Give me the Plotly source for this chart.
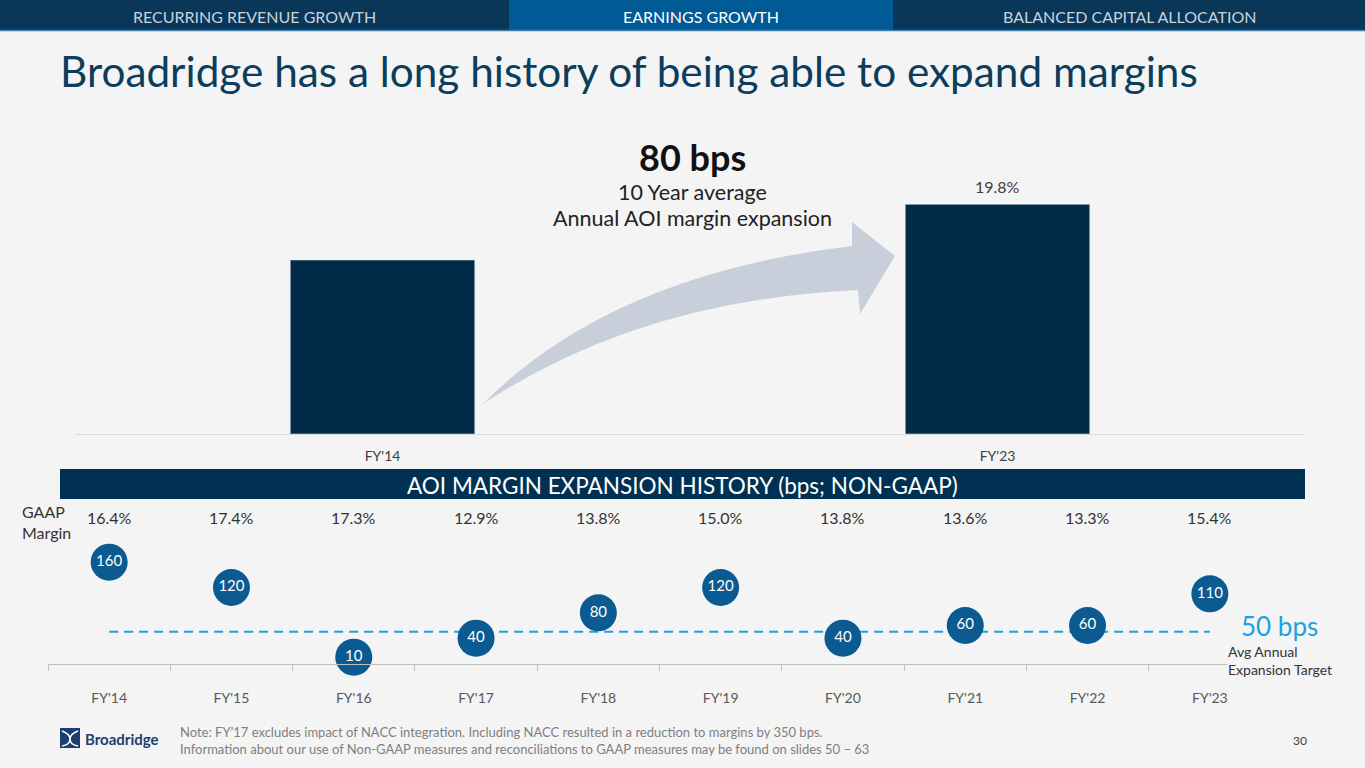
import plotly.graph_objs as go

W, H = 1365, 768

# ---- data ----
top_years = ["FY'14", "FY'23"]
top_margin = [15.0, 19.8]          # AOI margin %, FY'14 unlabeled in source (estimated)
top_labels = ["", "19.8%"]

years = ["FY'14", "FY'15", "FY'16", "FY'17", "FY'18",
         "FY'19", "FY'20", "FY'21", "FY'22", "FY'23"]
expansion_bps = [160, 120, 10, 40, 80, 120, 40, 60, 60, 110]
gaap_margin = ["16.4%", "17.4%", "17.3%", "12.9%", "13.8%",
               "15.0%", "13.8%", "13.6%", "13.3%", "15.4%"]
target_bps = 50

header_tabs = ["RECURRING REVENUE GROWTH", "EARNINGS GROWTH", "BALANCED CAPITAL ALLOCATION"]

FONT = "Lato, Calibri, Carlito, sans-serif"
NAVY = "#002b49"
MID_BLUE = "#0b5a91"
LIGHT_BLUE = "#1ba3e0"
BG = "#f4f4f4"


def px(x):
    return x / W


def py(y):
    return 1 - y / H


def note(x, y, text, size, color, xanchor="center", bold=False, align="center", **kw):
    # plain text placed in pixel coordinates of the slide
    if bold:
        text = "<b>" + text + "</b>"
    return dict(x=px(x), y=py(y), xref="paper", yref="paper", text=text, showarrow=False,
                xanchor=xanchor, yanchor="middle", align=align,
                font=dict(size=size, color=color, family=FONT), **kw)


fig = go.Figure()  # declare figure

# top bar chart
fig.add_trace(go.Bar(x=top_years, y=top_margin, marker=dict(color=NAVY),
                     xaxis="x", yaxis="y", showlegend=False, hoverinfo="skip"))

# target dashed line
fig.add_trace(go.Scatter(x=years, y=[target_bps] * len(years), mode="lines",
                         line=dict(color=LIGHT_BLUE, width=2, dash="9px,6px"),
                         xaxis="x2", yaxis="y2", showlegend=False, hoverinfo="skip"))

# expansion bubbles
fig.add_trace(go.Scatter(x=years, y=expansion_bps, mode="markers+text",
                         text=[str(v) for v in expansion_bps], textposition="middle center",
                         textfont=dict(size=15, color="white", family=FONT),
                         marker=dict(size=37, color=MID_BLUE),
                         xaxis="x2", yaxis="y2", showlegend=False, cliponaxis=False,
                         hoverinfo="skip"))

shapes = []
annotations = []

# bar value labels
for yr, v, lab in zip(top_years, top_margin, top_labels):
    if lab:
        annotations.append(dict(x=yr, y=v, xref="x", yref="y", text=lab, showarrow=False,
                                xanchor="center", yanchor="middle", yshift=18,
                                font=dict(size=16, color="#404040", family=FONT)))

# header tabs
tab_edges = [(0, 509, "#0a3658", "#c9d3dd"), (509, 893, "#005a96", "white"), (893, 1365, "#0a3658", "#c9d3dd")]
for (x0, x1, col, tcol), label in zip(tab_edges, header_tabs):
    shapes.append(dict(type="rect", xref="paper", yref="paper", x0=px(x0), x1=px(x1),
                       y0=py(30), y1=py(0), fillcolor=col, line=dict(width=0), layer="below"))
    annotations.append(note((x0 + x1) / 2, 16, label, 16, tcol))
shapes.append(dict(type="line", xref="paper", yref="paper", x0=0, x1=1, y0=py(30.5), y1=py(30.5),
                   line=dict(color="#3f7fae", width=1.5)))

# title
annotations.append(note(58, 70, "Broadridge has a long history of being able to expand margins",
                        42.3, "#0b3d5c", xanchor="left"))

# curved arrow
arrow = ("M {} {} Q {} {} {} {} L {} {} L {} {} L {} {} L {} {} Q {} {} {} {} Z").format(
    px(483), py(404), px(610), py(275), px(852), py(246),
    px(852), py(222), px(895), py(256), px(860), py(314), px(858), py(290),
    px(640), py(300), px(483), py(404))
shapes.append(dict(type="path", xref="paper", yref="paper", path=arrow,
                   fillcolor="#c8cfda", line=dict(width=0), layer="below"))

annotations += [
    note(692, 157, "80 bps", 36, "#111111", bold=True),
    note(692, 192, "10 Year average", 21.5, "#222222"),
    note(692, 218, "Annual AOI margin expansion", 21.5, "#222222"),
]

# banner
shapes.append(dict(type="rect", xref="paper", yref="paper", x0=px(60), x1=px(1305),
                   y0=py(499), y1=py(469), fillcolor="#003153", line=dict(width=0)))
annotations.append(note(682, 485, "AOI MARGIN EXPANSION HISTORY (bps; NON-GAAP)", 22.5, "white"))

# GAAP margin row
annotations.append(note(20, 522, "GAAP<br>Margin", 16, "#333333", xanchor="left", align="left"))
for yr, g in zip(years, gaap_margin):
    annotations.append(dict(x=yr, y=py(517), xref="x2", yref="paper", text=g, showarrow=False,
                            xanchor="center", yanchor="middle",
                            font=dict(size=16, color="#333333", family=FONT)))

# target label
annotations += [
    note(1239, 626, f"{target_bps} bps", 26, LIGHT_BLUE, xanchor="left"),
    note(1227, 660, "Avg Annual<br>Expansion Target", 14, "#333333", xanchor="left", align="left",
         bgcolor=BG, borderpad=0),
]

# footer: logo, note, page number
shapes.append(dict(type="rect", xref="paper", yref="paper", x0=px(60), x1=px(80),
                   y0=py(748), y1=py(728), fillcolor="#1b3f6e", line=dict(width=0)))
for a, b in [((62, 731), (78, 746)), ((78, 731), (62, 746))]:
    shapes.append(dict(type="path", xref="paper", yref="paper",
                       path="M {} {} Q {} {} {} {} Q {} {} {} {}".format(
                           px(a[0]), py(a[1]), px(70), py(734), px(70), py(739),
                           px(70), py(745), px(b[0]), py(b[1])),
                       line=dict(color="white", width=1.5)))
annotations += [
    note(83, 739, "Broadridge", 15, "#1b3f6e", xanchor="left", bold=True),
    note(178, 740, "Note: FY\u201917 excludes impact of NACC integration. Including NACC resulted in a reduction to margins by 350 bps.<br>"
                   "Information about our use of Non-GAAP measures and reconciliations to GAAP measures may be found on slides 50 \u2013 63",
         13, "#7f7f7f", xanchor="left", align="left"),
    note(1300, 740, "30", 12, "#404040"),
]

fig.update_layout(
    width=W, height=H, margin=dict(l=0, r=0, t=0, b=0),
    paper_bgcolor=BG, plot_bgcolor=BG, bargap=0.7,
    font=dict(family=FONT),
    xaxis=dict(domain=[px(75), px(1305)], range=[-0.5, 1.5], showgrid=False, showline=True,
               linecolor="#d9d9d9", linewidth=1, ticks="", tickfont=dict(size=14, color="#404040"),
               ticklabelstandoff=9, fixedrange=True),
    yaxis=dict(domain=[py(434), py(144)], range=[0, 25], visible=False, fixedrange=True),
    xaxis2=dict(domain=[px(48), px(1271)], range=[-0.5, 9.5], anchor="y2", showgrid=False,
                showline=True, linecolor="#bfbfbf", linewidth=1, ticks="outside",
                tickson="boundaries", ticklen=6, tickcolor="#bfbfbf",
                tickfont=dict(size=14, color="#595959"), ticklabelstandoff=22, fixedrange=True),
    yaxis2=dict(domain=[py(663.5), py(540)], range=[0, 195], visible=False, fixedrange=True),
    shapes=shapes, annotations=annotations,
)

fig.write_html("out.html", config={"displayModeBar": False},
               post_script="document.body.style.margin='0';document.body.style.overflow='hidden';")
